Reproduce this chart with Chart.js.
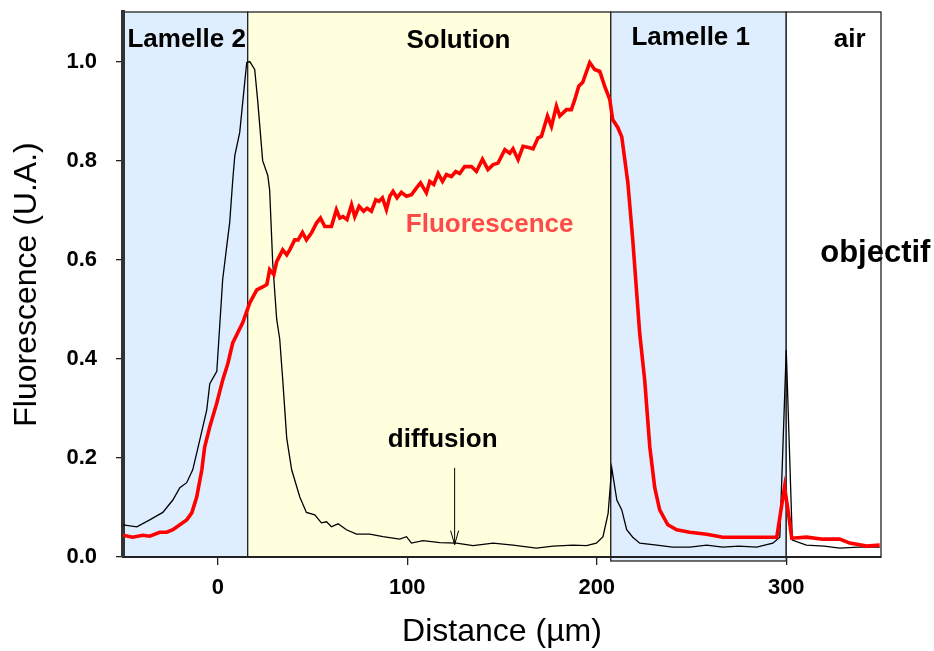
<!DOCTYPE html>
<html>
<head>
<meta charset="utf-8">
<script src="https://cdn.jsdelivr.net/npm/chart.js@4.4.1/dist/chart.umd.min.js"></script>
<style>
  html, body { margin: 0; padding: 0; background: #fff; }
  #wrap { width: 934px; height: 651px; }
</style>
</head>
<body>
<div id="wrap"><canvas id="profileChart" width="934" height="651"></canvas></div>
<script>
// distance in µm, intensities in U.A.
const fluoDistance = [-50, -44.9, -39.6, -35.9, -30.6, -26.9, -23.7, -20, -16.4, -13.7, -11.1, -8.4, -6.9, -4.2, -0.5, 2.6, 5.3, 7.9, 13.2, 16.9, 20.6, 23.7, 25.9, 27.4, 29.6, 31.1, 34.3, 36.4,
  38, 40.6, 42.4, 44.7, 46.8, 49.4, 52.1, 54.2, 56.5, 60, 62.6, 64.4, 66.1, 68.2, 70.6, 72.3, 74.6, 77, 78.8, 81.1, 83.4, 85.1, 86.9, 89, 90.8, 92.5, 94.6, 96.9, 99.6,
  102.2, 104.9, 107, 110.1, 111.9, 114, 116.3, 118.6, 120.7, 123.3, 125.6, 127.7, 130.3, 133.9, 136.5, 139.7, 142.6, 145.3, 147.9, 151.5, 154.1, 155.8, 158.5, 161.1,
  164.6, 166.4, 169, 170.8, 174, 176.1, 178.7, 180.5, 184, 186.6, 188.4, 190.5, 192.6, 196.3, 198.9, 201.6, 204.2, 206.9, 208.4, 211.1, 213.2, 216.4, 219, 222.7, 225.3,
  228, 230.6, 233.2, 237.5, 242.2, 249.1, 258, 266.5, 275.5, 284.4, 295, 297, 299.1, 301.1, 302.9, 310.8, 319.3, 328.2, 333.5, 342.5, 349.3];
const fluoValues = [0.044, 0.04, 0.044, 0.042, 0.05, 0.05, 0.055, 0.065, 0.075, 0.089, 0.121, 0.176, 0.222, 0.263, 0.311, 0.357, 0.39, 0.432, 0.473, 0.513, 0.539, 0.545, 0.55, 0.58, 0.57, 0.596, 0.62, 0.61,
  0.62, 0.64, 0.64, 0.655, 0.64, 0.654, 0.674, 0.684, 0.667, 0.667, 0.701, 0.684, 0.687, 0.681, 0.711, 0.687, 0.708, 0.698, 0.704, 0.698, 0.721, 0.718, 0.725, 0.701, 0.728, 0.738, 0.725, 0.736, 0.728,
  0.731, 0.745, 0.755, 0.735, 0.758, 0.752, 0.774, 0.758, 0.772, 0.768, 0.778, 0.774, 0.788, 0.788, 0.778, 0.803, 0.782, 0.792, 0.795, 0.822, 0.815, 0.824, 0.802, 0.829,
  0.826, 0.824, 0.846, 0.849, 0.89, 0.869, 0.91, 0.89, 0.903, 0.903, 0.923, 0.95, 0.958, 0.998, 0.984, 0.98, 0.95, 0.923, 0.883, 0.867, 0.848, 0.756, 0.64, 0.45, 0.357,
  0.222, 0.14, 0.095, 0.065, 0.055, 0.05, 0.046, 0.04, 0.04, 0.04, 0.04, 0.09, 0.141, 0.09, 0.038, 0.04, 0.036, 0.036, 0.028, 0.022, 0.024];

const diffDistance = [-50, -42.7, -35.9, -29, -23.7, -20, -16.4, -13.2, -9.5, -5.8, -4.2, -0.5, 2.6, 4.7, 6.3, 7.9, 9, 11.6, 14.2, 15.3, 16.9, 19.5, 21.1, 23.7, 26.4, 27.4, 29, 31.1, 32.7, 34.3, 36.4, 39, 43.3, 46.8, 51.2, 54.7, 57.4, 60, 63.5, 67.9, 73.2, 80.2, 87.2, 96, 99.6, 102.2, 108.3, 117.2, 126, 134.7, 145.3, 155.8, 168.2, 176.9, 187.5, 194.6, 199.8, 203.3, 206, 207.9, 210.6, 213.2, 215.8, 219, 222.7, 231.7, 240, 249.1, 258, 266.5, 275, 284.4, 292.9, 296.6, 300, 303.2, 310.6, 320, 328.2, 338, 349.3];
const diffValues = [0.065, 0.061, 0.075, 0.09, 0.115, 0.14, 0.15, 0.176, 0.236, 0.297, 0.35, 0.375, 0.56, 0.626, 0.675, 0.76, 0.81, 0.857, 0.957, 0.998, 1.0, 0.984, 0.92, 0.8, 0.77, 0.74, 0.594, 0.48, 0.44, 0.357, 0.24, 0.176, 0.121, 0.09, 0.085, 0.069, 0.071, 0.061, 0.067, 0.055, 0.046, 0.046, 0.041, 0.036, 0.041, 0.028, 0.033, 0.029, 0.028, 0.023, 0.028, 0.024, 0.018, 0.022, 0.024, 0.023, 0.028, 0.041, 0.088, 0.18, 0.115, 0.095, 0.055, 0.04, 0.028, 0.024, 0.02, 0.02, 0.024, 0.02, 0.022, 0.02, 0.028, 0.04, 0.418, 0.034, 0.024, 0.022, 0.018, 0.02, 0.02];

const xTickValues = [0, 100, 200, 300];
const yTickValues = [0, 0.2, 0.4, 0.6, 0.8, 1.0];

// sample zones, bounds in µm
const zoneNames = ['Lamelle 2', 'Solution', 'Lamelle 1', 'air'];
const zoneStart = [-50, 15.8, 207.4, 300];
const zoneEnd = [15.8, 207.4, 300, 350];

const toPoints = (xs, ys) => xs.map((x, i) => ({ x: x, y: ys[i] }));

const zoneFill = ['#dfeeff', '#ffffde', '#dfeeff', '#ffffff'];

const zonesPlugin = {
  id: 'zones',
  beforeDraw(chart) {
    const { ctx, chartArea, scales: { x, y } } = chart;
    ctx.save();
    zoneNames.forEach((name, i) => {
      const left = x.getPixelForValue(zoneStart[i]);
      const right = x.getPixelForValue(zoneEnd[i]);
      const top = y.getPixelForValue(1.1);
      // Lamelle 1 box hangs a bit below the axis
      const bottom = i === 2 ? chartArea.bottom + 4 : chartArea.bottom;
      ctx.fillStyle = zoneFill[i];
      ctx.fillRect(left, top, right - left, bottom - top);
      ctx.strokeStyle = '#222';
      ctx.lineWidth = 1.3;
      ctx.strokeRect(left, top, right - left, bottom - top);
    });
    ctx.restore();
  }
};

const labelsPlugin = {
  id: 'notes',
  afterDatasetsDraw(chart) {
    const { ctx, scales: { x, y } } = chart;
    ctx.save();
    ctx.textAlign = 'center';
    ctx.textBaseline = 'middle';
    const put = (text, vx, vy, size, color) => {
      ctx.font = 'bold ' + size + 'px "Liberation Sans", Arial, sans-serif';
      ctx.fillStyle = color;
      ctx.fillText(text, x.getPixelForValue(vx), y.getPixelForValue(vy));
    };
    put('Lamelle 2', -16.4, 1.044, 26, '#000');
    put('Solution', 127, 1.042, 26, '#000');
    put('Lamelle 1', 249.6, 1.048, 26, '#000');
    put('air', 333.5, 1.044, 26, '#000');
    put('Fluorescence', 143.5, 0.671, 26, '#ff4a4a');
    put('objectif', 347, 0.612, 31, '#000');
    put('diffusion', 118.7, 0.236, 26, '#000');

    // arrow pointing to the diffusion baseline
    const ax = x.getPixelForValue(125);
    const ay1 = y.getPixelForValue(0.18);
    const ay2 = y.getPixelForValue(0.025);
    ctx.strokeStyle = '#000';
    ctx.lineWidth = 1;
    ctx.beginPath();
    ctx.moveTo(ax, ay1);
    ctx.lineTo(ax, ay2);
    ctx.moveTo(ax - 4, ay2 - 14);
    ctx.lineTo(ax, ay2);
    ctx.lineTo(ax + 4, ay2 - 14);
    ctx.stroke();
    ctx.restore();
  }
};

const tickFont = { family: '"Liberation Sans", Arial, sans-serif', size: 22, weight: 'bold' };
const titleFont = { family: '"Liberation Sans", Arial, sans-serif', size: 32 };

new Chart(document.getElementById('profileChart'), {
  type: 'line',
  data: {
    datasets: [
      {
        label: 'Fluorescence',
        data: toPoints(fluoDistance, fluoValues),
        borderColor: '#ff0000',
        borderWidth: 3.6,
        pointRadius: 0,
        tension: 0
      },
      {
        label: 'diffusion',
        data: toPoints(diffDistance, diffValues),
        borderColor: '#000000',
        borderWidth: 1.3,
        pointRadius: 0,
        tension: 0
      }
    ]
  },
  options: {
    responsive: false,
    animation: false,
    layout: { padding: { top: 12, right: 53, left: 0, bottom: 0 } },
    plugins: { legend: { display: false }, tooltip: { enabled: false } },
    scales: {
      x: {
        type: 'linear',
        min: -50,
        max: 350,
        afterBuildTicks: (axis) => { axis.ticks = xTickValues.map(v => ({ value: v })); },
        afterFit: (axis) => { axis.height = 94; axis.paddingLeft = 0; axis.paddingRight = 0; },
        ticks: { font: tickFont, color: '#000', padding: 10, callback: v => String(v) },
        grid: { drawOnChartArea: false, tickLength: 8, color: '#222', lineWidth: 1.3 },
        border: { display: true, color: '#222', width: 2 },
        title: { display: true, text: 'Distance (µm)', font: titleFont, color: '#000', padding: { top: 0, bottom: 0 } }
      },
      y: {
        min: 0,
        max: 1.1,
        afterBuildTicks: (axis) => { axis.ticks = yTickValues.map(v => ({ value: v })); },
        afterFit: (axis) => { axis.width = 123; axis.paddingTop = 0; axis.paddingBottom = 0; },
        ticks: { font: tickFont, color: '#000', padding: 19, callback: v => v.toFixed(1) },
        grid: { drawOnChartArea: false, tickLength: 7, color: '#222', lineWidth: 1.3 },
        border: { display: true, color: '#333', width: 4 },
        title: { display: true, text: 'Fluorescence (U.A.)', font: titleFont, color: '#000', padding: { top: 8, bottom: 0 } }
      }
    }
  },
  plugins: [zonesPlugin, labelsPlugin]
});
</script>
</body>
</html>
